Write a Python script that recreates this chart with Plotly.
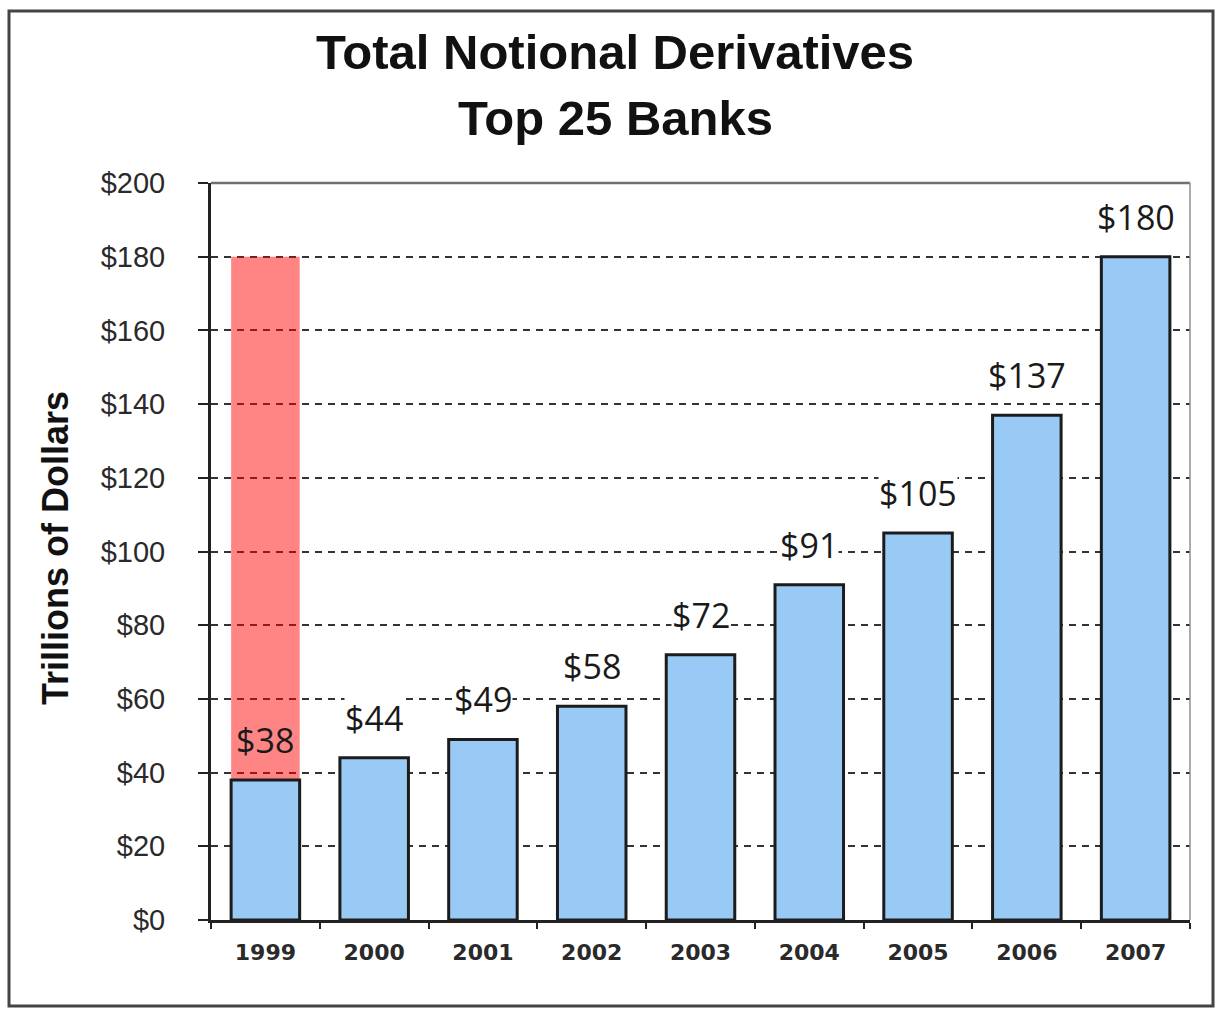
import plotly.graph_objects as go

years = ["1999", "2000", "2001", "2002", "2003", "2004", "2005", "2006", "2007"]
values = [38, 44, 49, 58, 72, 91, 105, 137, 180]
labels = ["$38", "$44", "$49", "$58", "$72", "$91", "$105", "$137", "$180"]
highlight_years = ["1999"]
highlight_tops = [180]
y_ticks = [0, 20, 40, 60, 80, 100, 120, 140, 160, 180, 200]
y_tick_text = ["$0", "$20", "$40", "$60", "$80", "$100", "$120", "$140", "$160", "$180", "$200"]

W, H = 1217, 1010
L, R, T, B = 211, 27, 183, 90

fig = go.Figure()

# highlighted range (translucent red) from the value to the top
hl_base = [values[years.index(y)] for y in highlight_years]
fig.add_trace(go.Bar(
    x=highlight_years,
    y=[t - b for t, b in zip(highlight_tops, hl_base)],
    base=hl_base,
    marker=dict(color="rgba(255,0,0,0.48)", line=dict(width=0)),
    hoverinfo="skip",
    showlegend=False,
))

fig.add_trace(go.Bar(
    x=years,
    y=values,
    marker=dict(color="#99CAF5", line=dict(color="#1c1c1c", width=3)),
    showlegend=False,
))

annotations = []
for i, (yr, v, lab) in enumerate(zip(years, values, labels)):
    annotations.append(dict(
        x=i, y=v, xref="x", yref="y", text=lab, showarrow=False,
        yanchor="middle", yshift=40,
        font=dict(family="Open Sans, Lato, sans-serif", size=34, color="#1a1a1a"),
        bgcolor="rgba(255,255,255,0)" if yr in highlight_years else "white",
        borderpad=0,
    ))

pw = W - L - R
ph = H - T - B
def py(px):
    return 1 + (T - px) / ph
def pxx(px):
    return (px - L) / pw

annotations.append(dict(
    x=pxx(615), y=py(52), xref="paper", yref="paper", text="<b>Total Notional Derivatives</b>",
    showarrow=False, xanchor="center", yanchor="middle",
    font=dict(family="Liberation Sans, Arial, sans-serif", size=49, color="#111111"),
))
annotations.append(dict(
    x=pxx(615), y=py(118), xref="paper", yref="paper", text="<b>Top 25 Banks</b>",
    showarrow=False, xanchor="center", yanchor="middle",
    font=dict(family="Liberation Sans, Arial, sans-serif", size=49, color="#111111"),
))
annotations.append(dict(
    x=pxx(55), y=py(548), xref="paper", yref="paper", text="<b>Trillions of Dollars</b>",
    showarrow=False, xanchor="center", yanchor="middle", textangle=-90,
    font=dict(family="Liberation Sans, Arial, sans-serif", size=36, color="#111111"),
))

shapes = [
    # outer frame
    dict(type="rect", xref="paper", yref="paper",
         x0=pxx(9), x1=pxx(1213), y0=py(1006), y1=py(11),
         line=dict(color="#444444", width=3), fillcolor="rgba(0,0,0,0)", layer="below"),
    # top and right plot frame (gray)
    dict(type="line", xref="paper", yref="paper", x0=0, x1=1, y0=1, y1=1,
         line=dict(color="#707070", width=2.5)),
    dict(type="line", xref="paper", yref="paper", x0=1, x1=1, y0=0, y1=1,
         line=dict(color="#909090", width=1.5)),
]

fig.update_layout(
    width=W, height=H,
    margin=dict(l=L, r=R, t=T, b=B, autoexpand=False),
    paper_bgcolor="white", plot_bgcolor="white",
    barmode="overlay", bargap=0.37,
    annotations=annotations, shapes=shapes,
    font=dict(family="Liberation Sans, Arial, sans-serif"),
)

fig.update_xaxes(
    type="category", categoryorder="array", categoryarray=years,
    range=[-0.5, len(years) - 0.5],
    showline=True, linecolor="#222222", linewidth=3,
    ticks="outside", ticklen=6, tickwidth=2, tickcolor="#222222",
    tickson="boundaries", tickangle=0, ticklabelstandoff=11,
    tickfont=dict(family="DejaVu Sans, Verdana, sans-serif", size=22, color="#2a2a2a", weight="bold"),
    showgrid=False, fixedrange=True,
)

fig.update_yaxes(
    range=[0, 200], tickvals=y_ticks, ticktext=y_tick_text,
    showline=True, linecolor="#222222", linewidth=3,
    ticks="outside", ticklen=10, tickwidth=2, tickcolor="#222222",
    ticklabelstandoff=27,
    tickfont=dict(family="Liberation Sans, Arial, sans-serif", size=29, color="#2a2a2a"),
    showgrid=True, gridcolor="#333333", gridwidth=2, griddash="7px,6px",
    zeroline=False, fixedrange=True,
)

fig.write_html("out.html", config={"displayModeBar": False},
               post_script="document.body.style.margin='0';document.body.style.overflow='hidden';")
